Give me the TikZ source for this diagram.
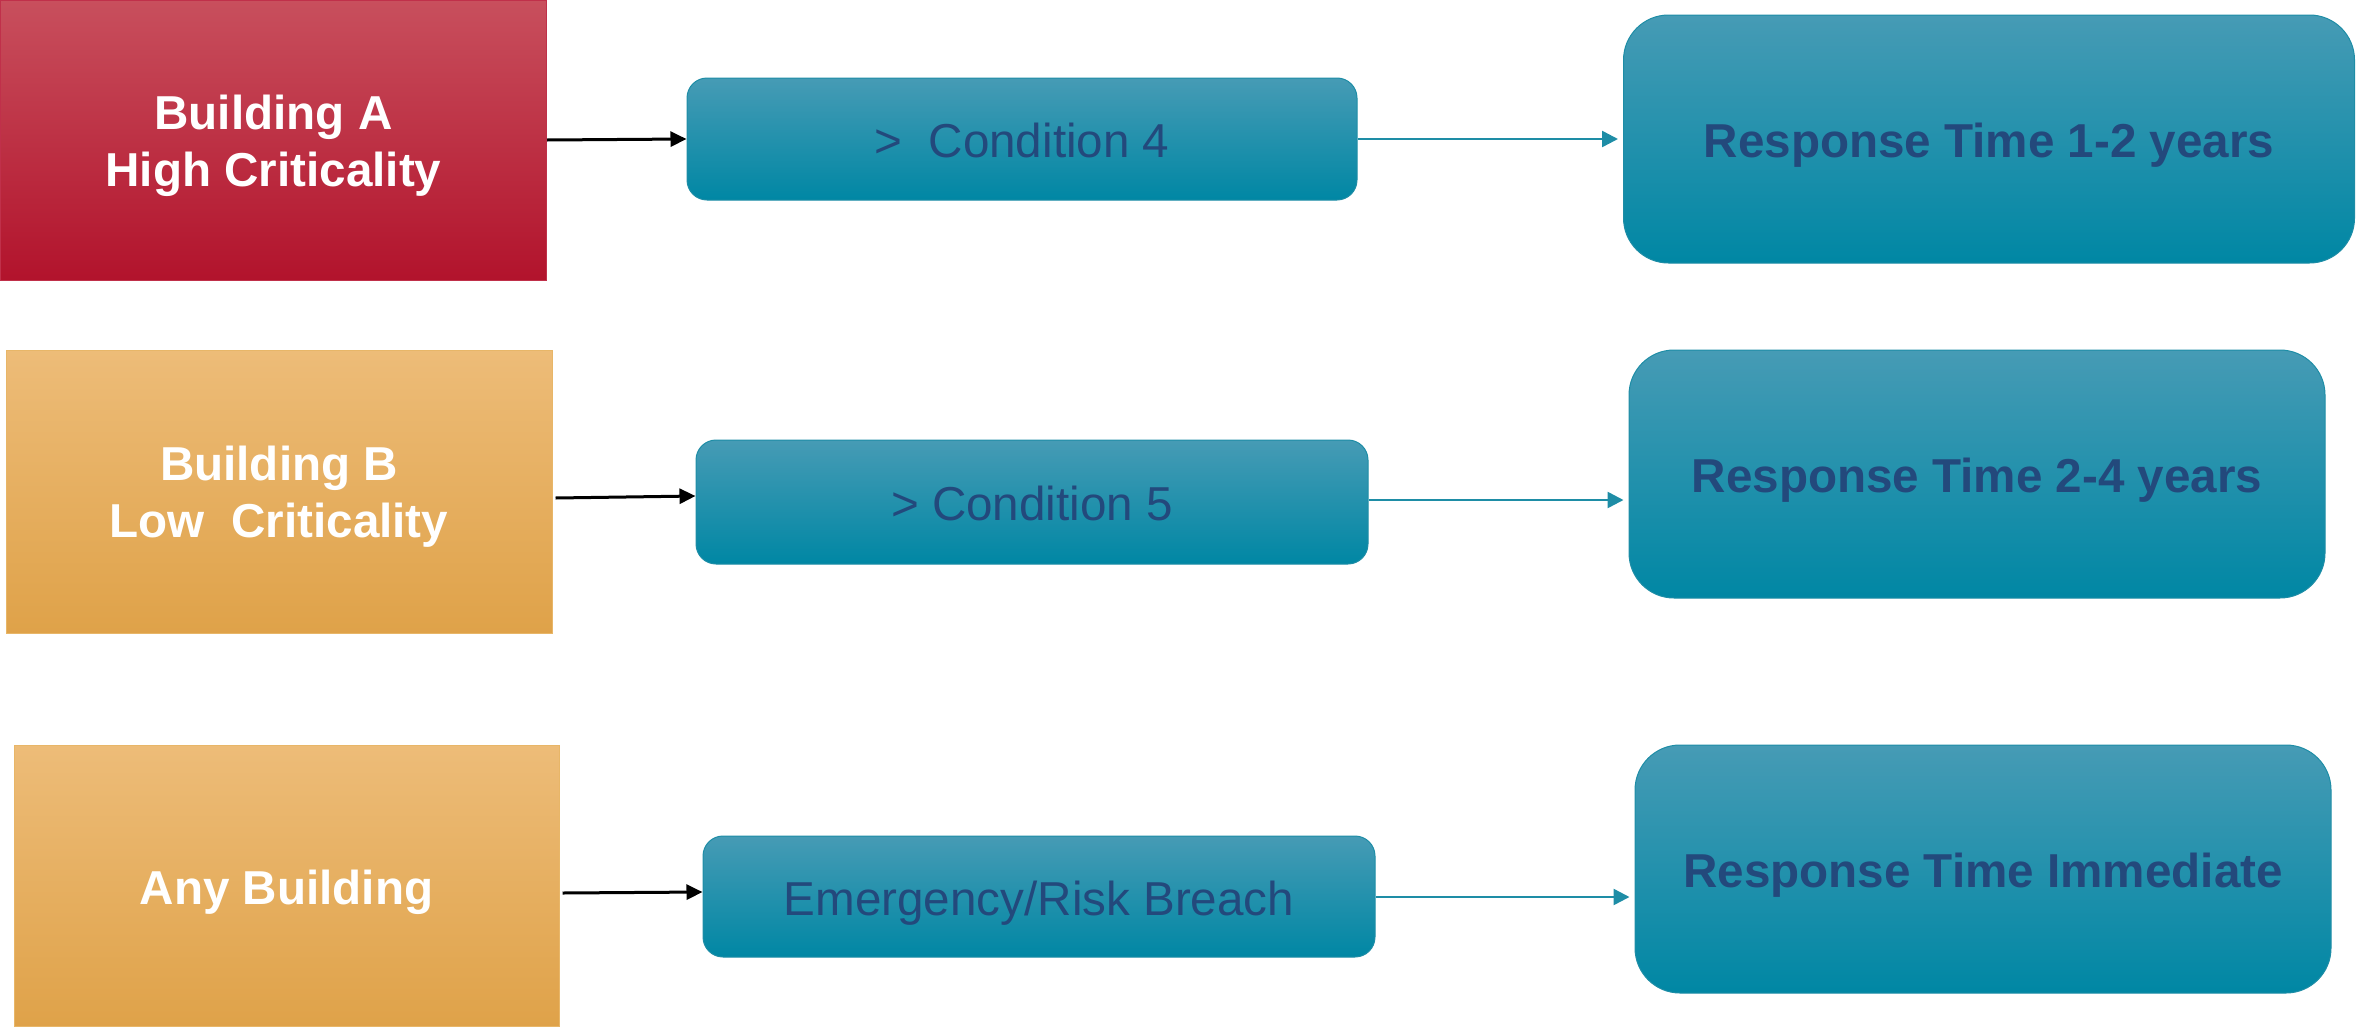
\documentclass[tikz,border=0pt]{standalone}
\usepackage{fontspec}
\setmainfont{Liberation Sans}
\usetikzlibrary{arrows.meta}
\definecolor{redtop}{HTML}{C84F5D}
\definecolor{redmid}{HTML}{C11E38}
\definecolor{redbot}{HTML}{B2132C}
\definecolor{redline}{HTML}{C0304A}
\definecolor{ortop}{HTML}{EDBC78}
\definecolor{ormid}{HTML}{F0B55C}
\definecolor{orbot}{HTML}{DFA249}
\definecolor{orline}{HTML}{E8B668}
\definecolor{tealtop}{HTML}{469BB5}
\definecolor{tealmid}{HTML}{0893AF}
\definecolor{tealbot}{HTML}{0087A4}
\definecolor{tealline}{HTML}{1E8DA6}
\definecolor{navytext}{HTML}{23497C}
\begin{document}
\begin{tikzpicture}[x=1pt,y=-1pt,
  oneline/.style={text height=37pt, text depth=0pt},
  twoline/.style={text height=91pt, text depth=0pt},
  bldg/.style={rectangle, inner sep=0pt, text=white, align=center,
    font=\fontsize{47.6}{57}\selectfont\bfseries, line width=1pt},
  redbox/.style={bldg, top color=redtop, middle color=redmid, bottom color=redbot, draw=redline},
  orangebox/.style={bldg, top color=ortop, middle color=ormid, bottom color=orbot, draw=orline},
  tealbase/.style={rectangle, inner sep=0pt, text=navytext, align=center, line width=1pt, oneline,
    top color=tealtop, middle color=tealmid, bottom color=tealbot, draw=tealline},
  condbox/.style={tealbase, rounded corners=20pt, font=\fontsize{47.6}{57}\selectfont},
  respbox/.style={tealbase, rounded corners=45pt, font=\fontsize{47.6}{57}\selectfont\bfseries},
  blackarrow/.style={line width=3pt, draw=black, -{Triangle[length=16pt,width=15pt]}},
  tealarrow/.style={line width=2.5pt, draw=tealline, -{Triangle[length=16pt,width=16pt]}, shorten >=5pt}
]
\useasboundingbox (0,0) rectangle (2357,1028);

% row 1
\node[redbox, twoline, minimum width=546pt, minimum height=280pt] (A) at (273.5,140.5) {Building A\\High Criticality};
\node[condbox, minimum width=670pt, minimum height=122pt] (C4) at (1022,139) {>~~Condition 4};
\node[respbox, minimum width=731pt, minimum height=248pt] (R1) at (1989,139) {Response Time 1-2 years};

% row 2
\node[orangebox, twoline, minimum width=546pt, minimum height=283pt] (B) at (279,491.5) {Building B\\Low~~Criticality};
\node[condbox, minimum width=672pt, minimum height=124pt] (C5) at (1032,502) {> Condition 5};
\node[respbox, minimum width=696pt, minimum height=248pt] (R2) at (1977,474) {Response Time 2-4 years};

% row 3
\node[orangebox, oneline, minimum width=545pt, minimum height=281pt] (Any) at (286.5,886) {Any Building};
\node[condbox, minimum width=672pt, minimum height=121pt] (E) at (1039,896.5) {Emergency/Risk Breach};
\node[respbox, minimum width=696pt, minimum height=248pt] (R3) at (1983,869) {Response Time Immediate};

% connectors
\draw[blackarrow] (A.east |- 0,140) -- (C4.west |- 0,139);
\draw[blackarrow] ([xshift=3pt]B.east |- 0,498) -- (C5.west |- 0,496);
\draw[blackarrow] ([xshift=3pt]Any.east |- 0,893) -- (E.west |- 0,892);

\draw[tealarrow] (C4.east) -- (C4.east -| R1.west);
\draw[tealarrow] (C5.east |- 0,500) -- (R2.west |- 0,500);
\draw[tealarrow] (E.east |- 0,897) -- (R3.west |- 0,897);
\end{tikzpicture}
\end{document}
